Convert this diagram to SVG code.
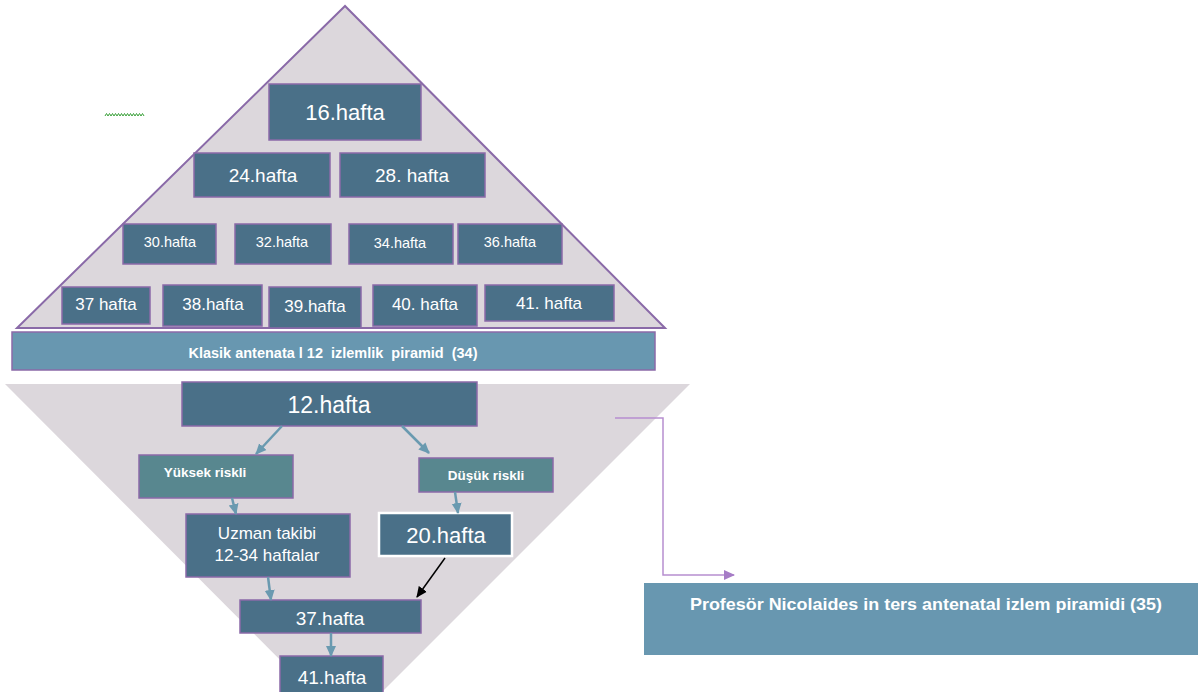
<svg xmlns="http://www.w3.org/2000/svg" width="1198" height="692" viewBox="0 0 1198 692">
<style>
.tri{fill:#dcd7dc;}
.box{fill:#4a7088;stroke:#8a6aa8;stroke-width:1.5;}
.risk{fill:#58878f;stroke:#8a6aa8;stroke-width:1.5;}
.band{fill:#6897b0;stroke:#8a6aa8;stroke-width:1.5;}
.t{font-family:"Liberation Sans",Arial,sans-serif;fill:#ffffff;text-anchor:middle;}
.b{font-weight:bold;}
.con{stroke:#6a9ab0;stroke-width:2.5;fill:none;}
</style>
<defs>
<marker id="ab" markerUnits="userSpaceOnUse" markerWidth="12" markerHeight="12" refX="10" refY="6" orient="auto">
<path d="M0,1 L11,6 L0,11 Z" fill="#6a9ab0"/>
</marker>
<marker id="ak" markerUnits="userSpaceOnUse" markerWidth="12" markerHeight="12" refX="10" refY="6" orient="auto">
<path d="M0,1 L11,6 L0,11 Z" fill="#000000"/>
</marker>
<marker id="ap" markerUnits="userSpaceOnUse" markerWidth="12" markerHeight="12" refX="10" refY="6" orient="auto">
<path d="M0,1 L11,6 L0,11 Z" fill="#a67cc6"/>
</marker>
</defs>

<g id="upper-pyramid">
<polygon class="tri" points="345,6 17,328 665,328" stroke="#8a6aa8" stroke-width="2"/>
</g>
<g id="lower-pyramid">
<polygon class="tri" points="5,384 690,384 347,727"/>
</g>
<path id="squiggle" d="M105,116 l1.5,-2.5 l1.5,2.5 l1.5,-2.5 l1.5,2.5 l1.5,-2.5 l1.5,2.5 l1.5,-2.5 l1.5,2.5 l1.5,-2.5 l1.5,2.5 l1.5,-2.5 l1.5,2.5 l1.5,-2.5 l1.5,2.5 l1.5,-2.5 l1.5,2.5 l1.5,-2.5 l1.5,2.5 l1.5,-2.5 l1.5,2.5 l1.5,-2.5 l1.5,2.5 l1.5,-2.5 l1.5,2.5 l1.5,-2.5 l1.5,2.5" stroke="#3aa13a" stroke-width="1" fill="none"/>

<g id="n16"><rect class="box" x="269" y="84" width="152" height="56"/><text class="t" x="345" y="120" font-size="22">16.hafta</text></g>
<g id="n24"><rect class="box" x="194" y="153" width="136" height="44"/><text class="t" x="263" y="182" font-size="19">24.hafta</text></g>
<g id="n28"><rect class="box" x="340" y="153" width="145" height="44"/><text class="t" x="412" y="182" font-size="19">28. hafta</text></g>
<g id="n30"><rect class="box" x="123" y="224" width="93" height="40"/><text class="t" x="170" y="247" font-size="14.5">30.hafta</text></g>
<g id="n32"><rect class="box" x="235" y="224" width="96" height="40"/><text class="t" x="282" y="247" font-size="14.5">32.hafta</text></g>
<g id="n34"><rect class="box" x="349" y="224" width="104" height="40"/><text class="t" x="400" y="248" font-size="14.5">34.hafta</text></g>
<g id="n36"><rect class="box" x="458" y="224" width="104" height="40"/><text class="t" x="510" y="247" font-size="14.5">36.hafta</text></g>
<g id="n37a"><rect class="box" x="62" y="287" width="88" height="37"/><text class="t" x="106" y="310" font-size="17">37 hafta</text></g>
<g id="n38"><rect class="box" x="163" y="285" width="99" height="41"/><text class="t" x="213" y="310" font-size="17">38.hafta</text></g>
<g id="n39"><rect class="box" x="269" y="287" width="92" height="41"/><text class="t" x="315" y="312" font-size="17">39.hafta</text></g>
<g id="n40"><rect class="box" x="373" y="285" width="104" height="41"/><text class="t" x="425" y="310" font-size="17">40. hafta</text></g>
<g id="n41a"><rect class="box" x="485" y="285" width="129" height="36"/><text class="t" x="549" y="309" font-size="17">41. hafta</text></g>

<g id="banner-klasik"><rect class="band" x="12" y="332" width="643" height="38"/><text class="t b" x="333" y="358" font-size="15" style="white-space:pre" textLength="289" lengthAdjust="spacingAndGlyphs">Klasik antenata l 12  izlemlik  piramid  (34)</text></g>

<g id="n12"><rect class="box" x="182" y="382" width="295" height="44"/><text class="t" x="329" y="413" font-size="23">12.hafta</text></g>
<g id="yuksek"><rect class="risk" x="139" y="455" width="154" height="43"/><text class="t b" x="205" y="477" font-size="13.5">Yüksek riskli</text></g>
<g id="dusuk"><rect class="risk" x="419" y="458" width="134" height="34"/><text class="t b" x="486" y="480" font-size="13.5">Düşük riskli</text></g>
<g id="uzman"><rect class="box" x="186" y="514" width="164" height="63"/><text class="t" x="267" y="539" font-size="17">Uzman takibi</text><text class="t" x="267" y="561" font-size="17">12-34 haftalar</text></g>
<g id="n20"><rect class="box" x="379" y="513" width="133" height="43" style="stroke:#ffffff;stroke-width:2.5"/><text class="t" x="446" y="543" font-size="22">20.hafta</text></g>
<g id="n37b"><rect class="box" x="240" y="600" width="181" height="33"/><text class="t" x="330" y="625" font-size="19">37.hafta</text></g>
<g id="n41b"><rect class="box" x="280" y="656" width="103" height="40"/><text class="t" x="332" y="684" font-size="19">41.hafta</text></g>

<g id="profesor"><rect x="644" y="583" width="554" height="72" fill="#6897b0"/><text class="t b" x="926" y="610" font-size="17" textLength="472" lengthAdjust="spacingAndGlyphs">Profesör Nicolaides in ters antenatal izlem piramidi (35)</text></g>

<g id="connectors">
<line class="con" x1="282" y1="426" x2="256" y2="454" marker-end="url(#ab)"/>
<line class="con" x1="402" y1="426" x2="429" y2="453" marker-end="url(#ab)"/>
<line class="con" x1="232" y1="498" x2="236" y2="514" marker-end="url(#ab)"/>
<line class="con" x1="455" y1="492" x2="458" y2="513" marker-end="url(#ab)"/>
<line class="con" x1="268" y1="577" x2="271" y2="600" marker-end="url(#ab)"/>
<line class="con" x1="331" y1="633" x2="331" y2="656" marker-end="url(#ab)"/>
<line x1="445" y1="558" x2="417" y2="597" stroke="#000000" stroke-width="1.5" marker-end="url(#ak)"/>
<polyline points="615,418 663,418 663,575 734,575" fill="none" stroke="#b78fd0" stroke-width="1.5" marker-end="url(#ap)"/>
</g>
</svg>
